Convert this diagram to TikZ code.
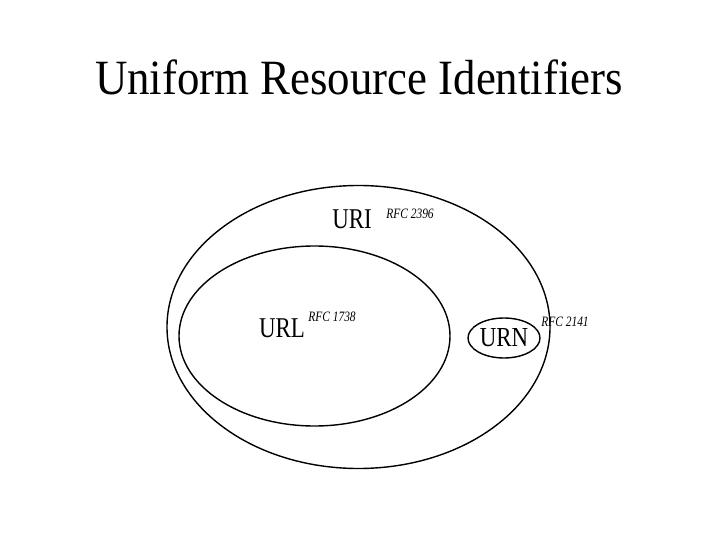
\documentclass[tikz,border=0pt]{standalone}
\usepackage{fontspec}
\usepackage{graphicx}
\setmainfont{Liberation Serif}
\usetikzlibrary{shapes.geometric}
\newcommand{\tallset}[2]{\scalebox{1}[#1]{#2}}
\begin{document}
\begin{tikzpicture}[x=1bp,y=-1bp,
  ring/.style={draw=black,line width=1.4bp},
  big/.style={font=\fontsize{23}{23}\selectfont,inner sep=0pt},
  rfc/.style={font=\fontsize{11.5}{12}\selectfont\itshape,inner sep=0pt}]
\useasboundingbox[fill=white] (0,0) rectangle (720,540);
\node[inner sep=0pt,font=\fontsize{45}{45}\selectfont] (title) at (359,77) {\tallset{1.1}{Uniform Resource Identifiers}};
\node[ring,ellipse,minimum width=383bp,minimum height=283bp,inner sep=0pt] (urigroup) at (358.5,327) {};
\node[ring,ellipse,minimum width=271bp,minimum height=180bp,inner sep=0pt] (urlgroup) at (314.5,336) {};
\node[ring,ellipse,minimum width=72bp,minimum height=40bp,inner sep=0pt,big] (urn) at (504,338) {\tallset{1.2}{URN}};
\node[big] (uri) at (352,219) {\tallset{1.25}{URI}};
\node[rfc] (rfc2396) at (410,214) {\tallset{1.25}{RFC 2396}};
\node[big] (url) at (282,328) {\tallset{1.25}{URL}};
\node[rfc] (rfc1738) at (332,317) {\tallset{1.25}{RFC 1738}};
\node[rfc] (rfc2141) at (565,322) {\tallset{1.25}{RFC 2141}};
\end{tikzpicture}
\end{document}
